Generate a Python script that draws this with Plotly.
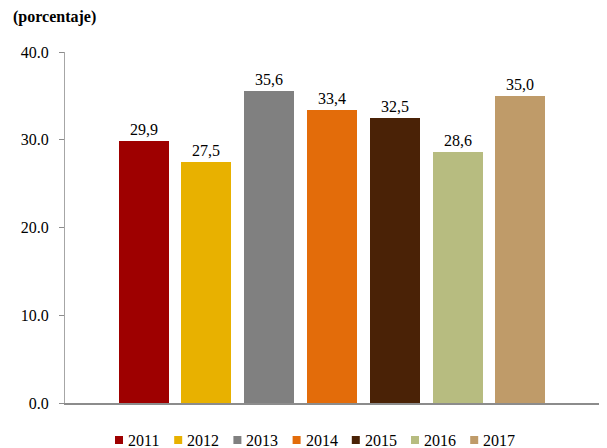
import plotly.graph_objects as go

# Series data
years = ["2011", "2012", "2013", "2014", "2015", "2016", "2017"]
values = [29.9, 27.5, 35.6, 33.4, 32.5, 28.6, 35.0]
colors = ["#9e0000", "#e8b100", "#808080", "#e36c0a", "#4a2206", "#b7bc80", "#bf9b69"]
y_ticks = [0, 10, 20, 30, 40]

W, H = 607, 448
L, R, T, B = 65, 8, 52, 45
plot_w = W - L - R
plot_h = H - T - B
FONT = "Liberation Serif"

fig = go.Figure()
for i, (yr, v, c) in enumerate(zip(years, values, colors)):
    fig.add_trace(go.Bar(
        x=[i], y=[v], name=yr, width=0.796,
        marker=dict(color=c, line=dict(width=0)),
        text=[f"{v:.1f}".replace(".", ",")],
        textposition="outside",
        textfont=dict(family=FONT, size=16, color="#000000"),
        cliponaxis=False,
        showlegend=False,
    ))

# Legend drawn as small squares with labels underneath the axis
def px_to_paper_x(px):
    return (px - L) / plot_w

def px_to_paper_y(py):
    return (H - B - py) / plot_h

shapes = []
annotations = []
for i, (yr, c) in enumerate(zip(years, colors)):
    sx = 115 + 59.2 * i
    shapes.append(dict(
        type="rect", xref="paper", yref="paper",
        x0=px_to_paper_x(sx), x1=px_to_paper_x(sx + 8),
        y0=px_to_paper_y(444), y1=px_to_paper_y(436),
        fillcolor=c, line=dict(width=0),
    ))
    annotations.append(dict(
        text=yr, xref="paper", yref="paper",
        x=px_to_paper_x(sx + 11), y=px_to_paper_y(440),
        xanchor="left", yanchor="middle", showarrow=False,
        font=dict(family=FONT, size=16, color="#000000"),
    ))

fig.update_layout(
    width=W, height=H,
    margin=dict(l=L, r=R, t=T, b=B, pad=0),
    paper_bgcolor="white", plot_bgcolor="white",
    bargap=0,
    font=dict(family=FONT, size=16, color="#000000"),
    title=dict(
        text="<b>(porcentaje)</b>", x=13 / W, xanchor="left",
        y=1 - 16 / H, yanchor="middle", xref="container", yref="container",
        font=dict(family=FONT, size=16, color="#000000"),
    ),
    xaxis=dict(
        range=[-1.25, 7.25], showticklabels=False, ticks="",
        showgrid=False, zeroline=False,
        showline=True, linecolor="#8c8c8c", linewidth=1.5,
    ),
    yaxis=dict(
        range=[0, 40], tickvals=y_ticks, tickformat=".1f",
        ticks="outside", ticklen=5, tickcolor="#8c8c8c", tickwidth=1,
        showgrid=False, zeroline=False,
        showline=True, linecolor="#a6a6a6", linewidth=1,
        tickfont=dict(family=FONT, size=16, color="#000000"),
        ticklabelstandoff=7,
    ),
    shapes=shapes,
    annotations=annotations,
)

fig.write_html("out.html")
